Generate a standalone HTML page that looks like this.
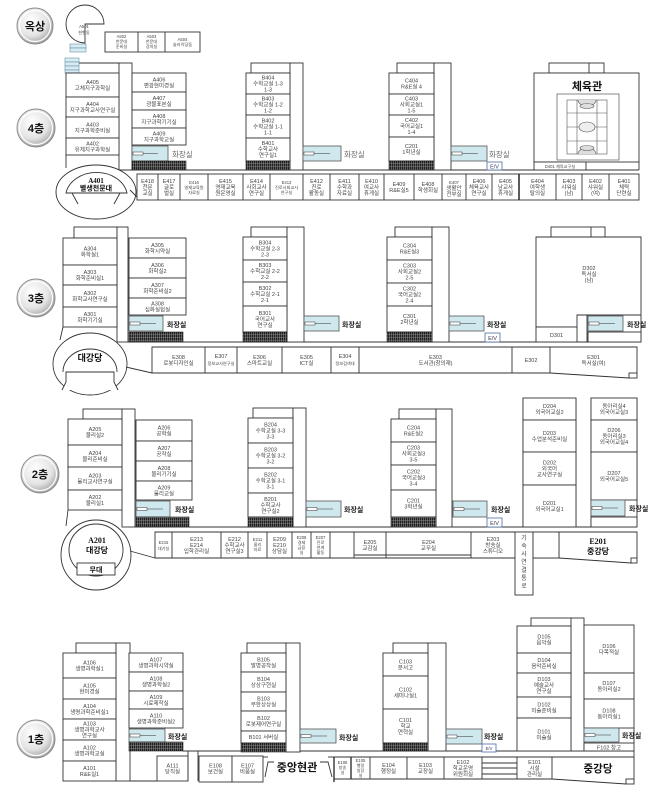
<!DOCTYPE html>
<html><head><meta charset="utf-8">
<style>
html,body{margin:0;padding:0;background:#fff;}
svg{display:block;}
.w{fill:#fff;stroke:#333;stroke-width:.9}
.ln{fill:none;stroke:#333;stroke-width:.9}
.tl{fill:#cfe8ee;stroke:#555;stroke-width:.8}
.ev{fill:#fff;stroke:#4a6fa5;stroke-width:.8}
.h{fill:url(#hp);stroke:#222;stroke-width:.6}
text{font-family:"Liberation Sans","Noto Sans CJK KR","NanumGothic",sans-serif;}
.t{font-size:5.5px;fill:#444;text-anchor:middle}
.s{font-size:4.2px;fill:#444;text-anchor:middle}
.fl{font-size:11px;font-weight:bold;fill:#111;text-anchor:middle}
.wc{font-size:7px;font-weight:bold;fill:#222}
.wc4{font-size:7.5px;fill:#666}
.big{font-size:11px;font-weight:bold;fill:#111;text-anchor:middle}
.srf{font-family:"Liberation Serif","Noto Serif CJK SC",serif;font-weight:bold;fill:#111;text-anchor:middle}
</style></head>
<body>
<svg width="659" height="796" viewBox="0 0 659 796" xmlns="http://www.w3.org/2000/svg">
<defs>
<pattern id="hp" width="2" height="3" patternUnits="userSpaceOnUse">
<rect width="2" height="3" fill="#1e1e1e"/>
<rect x="1.1" width="0.5" height="3" fill="#999"/>
<rect y="1.6" width="2" height="0.4" fill="#999"/>
</pattern>
<radialGradient id="fg" cx="40%" cy="35%" r="70%">
<stop offset="0" stop-color="#ffffff"/>
<stop offset="0.6" stop-color="#e4e4e4"/>
<stop offset="1" stop-color="#9a9a9a"/>
</radialGradient>
</defs>

<!-- ===== Floor labels ===== -->
<g>
<circle cx="35" cy="26" r="18" fill="url(#fg)" stroke="#8a8a8a" stroke-width="1"/>
<circle cx="35" cy="26" r="15.5" fill="none" stroke="#fff" stroke-width="1.2"/>
<text class="fl" x="35" y="30">옥상</text>
<circle cx="36" cy="128" r="19" fill="url(#fg)" stroke="#8a8a8a" stroke-width="1"/>
<circle cx="36" cy="128" r="16.5" fill="none" stroke="#fff" stroke-width="1.2"/>
<text class="fl" x="36" y="132">4층</text>
<circle cx="36" cy="298" r="19" fill="url(#fg)" stroke="#8a8a8a" stroke-width="1"/>
<circle cx="36" cy="298" r="16.5" fill="none" stroke="#fff" stroke-width="1.2"/>
<text class="fl" x="36" y="302">3층</text>
<circle cx="40" cy="474" r="19" fill="url(#fg)" stroke="#8a8a8a" stroke-width="1"/>
<circle cx="40" cy="474" r="16.5" fill="none" stroke="#fff" stroke-width="1.2"/>
<text class="fl" x="40" y="478">2층</text>
<circle cx="36" cy="739" r="19" fill="url(#fg)" stroke="#8a8a8a" stroke-width="1"/>
<circle cx="36" cy="739" r="16.5" fill="none" stroke="#fff" stroke-width="1.2"/>
<text class="fl" x="36" y="743">1층</text>
</g>

<!-- ===== Rooftop ===== -->
<path class="w" d="M104,24 L85,24 L85,43 A19,19 0 1,1 104,24 Z"/>
<path class="w" d="M66,24 A19,19 0 0,1 104,24 L85,24 L85,43 A19,19 0 0,1 66,24 Z" style="display:none"/>
<text class="s" x="84" y="28">A501</text>
<text class="s" x="84" y="34">현행동</text>
<rect class="w" x="105" y="32" width="95" height="20"/>
<line class="ln" x1="138" y1="32" x2="138" y2="52"/>
<line class="ln" x1="165" y1="32" x2="165" y2="52"/>
<text class="s" x="121.5" y="38">A502</text><text class="s" x="121.5" y="43">천문대</text><text class="s" x="121.5" y="48">준비실</text>
<text class="s" x="151.5" y="38">A503</text><text class="s" x="151.5" y="43">천문대</text><text class="s" x="151.5" y="48">강의실</text>
<text class="s" x="182.5" y="41">A504</text><text class="s" x="182.5" y="46">슬라이딩돔</text>
<!-- stairs -->
<g fill="#d7ecf3" stroke="#6b8fa6" stroke-width=".6">
<rect x="70" y="44" width="16" height="4"/><rect x="70" y="48" width="16" height="4"/>
<rect x="65" y="58" width="14" height="4"/><rect x="65" y="62" width="14" height="4"/>
<rect x="65" y="66" width="14" height="4"/><rect x="65" y="70" width="14" height="3"/>
</g>

<!-- ===== 4F ===== -->
<line class="ln" x1="79" y1="63" x2="119" y2="63"/>
<rect class="w" x="119" y="63" width="13" height="107"/>
<line class="ln" x1="66" y1="155" x2="66" y2="168"/>
<rect class="w" x="66" y="73" width="53" height="24"/><text class="t" x="92.5" y="84">A405</text><text class="t" x="92.5" y="90">고체지구과학실</text>
<rect class="w" x="66" y="97" width="53" height="20"/><text class="t" x="92.5" y="106">A404</text><text class="t" x="92.5" y="112">지구과학교사연구실</text>
<rect class="w" x="66" y="117" width="53" height="21"/><text class="t" x="92.5" y="126.5">A403</text><text class="t" x="92.5" y="132.5">지구과학준비실</text>
<rect class="w" x="66" y="138" width="53" height="17"/><text class="t" x="92.5" y="145.5">A402</text><text class="t" x="92.5" y="151.5">유체지구과학실</text>
<rect class="w" x="132" y="73" width="54" height="19"/><text class="t" x="159" y="81.5">A406</text><text class="t" x="159" y="87.5">편광현미경실</text>
<rect class="w" x="132" y="92" width="54" height="18"/><text class="t" x="159" y="100">A407</text><text class="t" x="159" y="106">광물표본실</text>
<rect class="w" x="132" y="110" width="54" height="18"/><text class="t" x="159" y="118">A408</text><text class="t" x="159" y="124">지구과학기기실</text>
<rect class="w" x="132" y="128" width="54" height="17"/><text class="t" x="159" y="135.5">A409</text><text class="t" x="159" y="141.5">지구과학교실</text>
<rect class="tl" x="132" y="146" width="36" height="15"/>
<line x1="133" y1="153.5" x2="158" y2="153.5" stroke="#333" stroke-width=".6"/><rect x="133" y="152" width="10" height="3" fill="#fff" stroke="#333" stroke-width=".5"/>
<text class="wc4" x="172" y="157">화장실</text>
<rect class="h" x="132" y="161" width="54" height="9"/>
<line class="ln" x1="120" y1="170" x2="639" y2="170"/>

<!-- A401 -->
<ellipse class="w" cx="96" cy="192" rx="40" ry="27"/>
<path class="w" d="M66,193 A31,25 0 0,1 127,193 Z"/>
<line class="ln" x1="72" y1="193" x2="78" y2="204"/>
<line class="ln" x1="120" y1="193" x2="114" y2="204"/>
<text class="srf" x="96" y="183" style="font-size:7px">A401</text>
<text x="96" y="190.5" style="font-size:7px;font-weight:bold;fill:#111;text-anchor:middle">별생천문대</text>
<line class="ln" x1="130" y1="190" x2="140" y2="200"/>

<!-- E row 4F -->
<rect class="w" x="137" y="174" width="502" height="26"/>
<g class="ln">
<line x1="158" y1="174" x2="158" y2="200"/><line x1="180" y1="174" x2="180" y2="200"/>
<line x1="208" y1="174" x2="208" y2="200"/><line x1="243" y1="174" x2="243" y2="200"/>
<line x1="270" y1="174" x2="270" y2="200"/><line x1="303" y1="174" x2="303" y2="200"/>
<line x1="330" y1="174" x2="330" y2="200"/><line x1="359" y1="174" x2="359" y2="200"/>
<line x1="384" y1="174" x2="384" y2="200"/><line x1="414" y1="174" x2="414" y2="200"/>
<line x1="442" y1="174" x2="442" y2="200"/><line x1="466" y1="174" x2="466" y2="200"/>
<line x1="492" y1="174" x2="492" y2="200"/><line x1="519" y1="174" x2="519" y2="200" stroke-width="1.6"/>
<line x1="556" y1="174" x2="556" y2="200"/><line x1="582" y1="174" x2="582" y2="200"/>
<line x1="609" y1="174" x2="609" y2="200"/>
</g>
<text class="t" x="147.5" y="183">E418</text><text class="t" x="147.5" y="189">천문</text><text class="t" x="147.5" y="195">교실</text>
<text class="t" x="169" y="183">E417</text><text class="t" x="169" y="189">글로</text><text class="t" x="169" y="195">벌실</text>
<text class="s" x="194" y="184">E416</text><text class="s" x="194" y="189">영재교육원</text><text class="s" x="194" y="194">자료실</text>
<text class="t" x="225.5" y="183">E415</text><text class="t" x="225.5" y="189">영재교육</text><text class="t" x="225.5" y="195">원운영실</text>
<text class="t" x="256.5" y="183">E414</text><text class="t" x="256.5" y="189">사회교사</text><text class="t" x="256.5" y="195">연구실</text>
<text class="s" x="286.5" y="184">E413</text><text class="s" x="286.5" y="189">진로사회교사</text><text class="s" x="286.5" y="194">연구실</text>
<text class="t" x="316.5" y="183">E412</text><text class="t" x="316.5" y="189">진로</text><text class="t" x="316.5" y="195">활동실</text>
<text class="t" x="344.5" y="183">E411</text><text class="t" x="344.5" y="189">수학과</text><text class="t" x="344.5" y="195">자료실</text>
<text class="t" x="371.5" y="183">E410</text><text class="t" x="371.5" y="189">여교사</text><text class="t" x="371.5" y="195">휴게실</text>
<text class="t" x="399" y="186">E409</text><text class="t" x="399" y="192">R&amp;E실5</text>
<text class="t" x="428" y="186">E408</text><text class="t" x="428" y="192">학생회실</text>
<text class="s" x="454" y="184">E407</text><text class="t" x="454" y="190">생활안</text><text class="t" x="454" y="196">전부실</text>
<text class="t" x="479" y="183">E406</text><text class="t" x="479" y="189">체육교사</text><text class="t" x="479" y="195">연구실</text>
<text class="t" x="505.5" y="183">E405</text><text class="t" x="505.5" y="189">남교사</text><text class="t" x="505.5" y="195">휴게실</text>
<text class="t" x="537.5" y="183">E404</text><text class="t" x="537.5" y="189">여학생</text><text class="t" x="537.5" y="195">탈의실</text>
<text class="t" x="569" y="183">E403</text><text class="t" x="569" y="189">샤워실</text><text class="t" x="569" y="195">(남)</text>
<text class="t" x="595.5" y="183">E402</text><text class="t" x="595.5" y="189">샤워실</text><text class="t" x="595.5" y="195">(여)</text>
<text class="t" x="624" y="183">E401</text><text class="t" x="624" y="189">체력</text><text class="t" x="624" y="195">단련실</text>

<!-- B 4F -->
<rect class="w" x="251" y="63" width="39" height="10"/>
<rect class="w" x="290" y="63" width="13" height="107"/>
<rect class="w" x="246" y="73" width="44" height="21"/><text class="t" x="268" y="79.5">B404</text><text class="t" x="268" y="85.5">수학교실 1-3</text><text class="t" x="268" y="91.5">1-3</text>
<rect class="w" x="246" y="94" width="44" height="21"/><text class="t" x="268" y="100.5">B403</text><text class="t" x="268" y="106.5">수학교실 1-2</text><text class="t" x="268" y="112.5">1-2</text>
<rect class="w" x="246" y="115" width="44" height="23"/><text class="t" x="268" y="122.5">B402</text><text class="t" x="268" y="128.5">수학교실 1-1</text><text class="t" x="268" y="134.5">1-1</text>
<rect class="w" x="246" y="138" width="44" height="23"/><text class="t" x="268" y="145">B401</text><text class="t" x="268" y="151">수학교사</text><text class="t" x="268" y="157">연구실1</text>
<rect class="h" x="246" y="161" width="44" height="9"/>
<rect class="tl" x="303" y="146" width="38" height="15"/>
<line x1="304" y1="153.5" x2="330" y2="153.5" stroke="#333" stroke-width=".6"/><rect x="304" y="152" width="10" height="3" fill="#fff" stroke="#333" stroke-width=".5"/>
<text class="wc4" x="344" y="157">화장실</text>

<!-- C 4F -->
<rect class="w" x="397" y="63" width="37" height="10"/>
<rect class="w" x="434" y="63" width="17" height="107"/>
<rect class="w" x="389" y="73" width="45" height="21"/><text class="t" x="411.5" y="82.5">C404</text><text class="t" x="411.5" y="88.5">R&amp;E실 4</text>
<rect class="w" x="389" y="94" width="45" height="21"/><text class="t" x="411.5" y="100.5">C403</text><text class="t" x="411.5" y="106.5">사회교실1</text><text class="t" x="411.5" y="112.5">1-5</text>
<rect class="w" x="389" y="115" width="45" height="22"/><text class="t" x="411.5" y="122">C402</text><text class="t" x="411.5" y="128">국어교실1</text><text class="t" x="411.5" y="134">1-4</text>
<rect class="w" x="389" y="137" width="45" height="24"/><text class="t" x="411.5" y="148">C201</text><text class="t" x="411.5" y="154">1학년실</text>
<rect class="h" x="389" y="161" width="45" height="9"/>
<rect class="tl" x="451" y="146" width="36" height="15"/>
<line x1="452" y1="153.5" x2="478" y2="153.5" stroke="#333" stroke-width=".6"/><rect x="452" y="152" width="10" height="3" fill="#fff" stroke="#333" stroke-width=".5"/>
<text class="wc4" x="489" y="157">화장실</text>
<rect class="ev" x="487" y="162" width="15" height="8"/><text class="t" x="494.5" y="168.5" style="fill:#335">E/V</text>

<!-- Gym -->
<rect class="w" x="549" y="63" width="55" height="10"/>
<line class="ln" x1="589" y1="63" x2="589" y2="73"/>
<rect class="w" x="534" y="73" width="105" height="89"/>
<text class="big" x="587" y="90">체육관</text>
<rect x="557" y="94" width="62" height="66" fill="#fff" stroke="#555" stroke-width=".7"/>
<g fill="none" stroke="#555" stroke-width=".6">
<rect x="567" y="100" width="40" height="54"/>
<line x1="577" y1="100" x2="577" y2="154"/><line x1="597" y1="100" x2="597" y2="154"/>
<line x1="567" y1="113" x2="607" y2="113"/><line x1="567" y1="127" x2="607" y2="127"/><line x1="567" y1="141" x2="607" y2="141"/>
<ellipse cx="587" cy="127" rx="8" ry="5" fill="#eee"/>
<path d="M578,100 A9,6 0 0,0 596,100" fill="#ddd"/>
<path d="M578,154 A9,6 0 0,1 596,154" fill="#ddd"/>
<ellipse cx="587" cy="106" rx="7" ry="2.5" fill="#ddd"/>
<ellipse cx="587" cy="148" rx="7" ry="2.5" fill="#ddd"/>
</g>
<rect class="w" x="534" y="162" width="52" height="8"/><text class="s" x="560" y="168">D401 체육교구실</text>
<line class="ln" x1="639" y1="162" x2="639" y2="170"/>

<!-- ===== 3F ===== -->
<rect class="w" x="74" y="227" width="43" height="11"/>
<rect class="w" x="117" y="227" width="11" height="115"/>
<rect class="w" x="63" y="238" width="54" height="27"/><text class="t" x="90" y="250.5">A304</text><text class="t" x="90" y="256.5">화학실1</text>
<rect class="w" x="63" y="265" width="54" height="20"/><text class="t" x="90" y="274">A303</text><text class="t" x="90" y="280">화학준비실1</text>
<rect class="w" x="63" y="285" width="54" height="22"/><text class="t" x="90" y="295">A302</text><text class="t" x="90" y="301">화학교사연구실</text>
<rect class="w" x="63" y="307" width="54" height="20"/><text class="t" x="90" y="316">A301</text><text class="t" x="90" y="322">화학기기실</text>
<line class="ln" x1="63" y1="327" x2="60" y2="340"/>
<rect class="w" x="129" y="238" width="57" height="20"/><text class="t" x="157.5" y="247">A305</text><text class="t" x="157.5" y="253">화학시약실</text>
<rect class="w" x="129" y="258" width="57" height="20"/><text class="t" x="157.5" y="267">A306</text><text class="t" x="157.5" y="273">화학실2</text>
<rect class="w" x="129" y="278" width="57" height="20"/><text class="t" x="157.5" y="287">A307</text><text class="t" x="157.5" y="293">화학준비실2</text>
<rect class="w" x="129" y="298" width="57" height="17"/><text class="t" x="157.5" y="305.5">A308</text><text class="t" x="157.5" y="311.5">심화실험실</text>
<rect class="tl" x="129" y="316" width="34" height="15"/>
<line x1="130" y1="323.5" x2="156" y2="323.5" stroke="#333" stroke-width=".6"/><rect x="130" y="322" width="10" height="3" fill="#fff" stroke="#333" stroke-width=".5"/>
<text class="wc" x="167" y="327">화장실</text>
<rect class="h" x="129" y="332" width="54" height="10"/>
<line class="ln" x1="128" y1="342" x2="641" y2="342"/>

<!-- 대강당 3F -->
<ellipse class="w" cx="90" cy="364" rx="37" ry="31"/>
<path class="w" d="M63,372 A27,23 0 1,1 117,372"/>
<path class="w" d="M62,390 L66,382 L66,372 L114,372 L114,382 L118,390"/>
<line class="ln" x1="66" y1="382" x2="114" y2="382" style="display:none"/>
<text x="90" y="361" style="font-size:9px;font-weight:bold;fill:#111;text-anchor:middle">대강당</text>
<line class="ln" x1="126" y1="367" x2="152" y2="373"/>

<!-- E row 3F -->
<path class="w" d="M152,347 H637 V373 H637 L629,378 L550,373 H152 Z"/>
<rect class="w" x="629" y="373" width="8" height="5"/>
<g class="ln">
<line x1="205" y1="347" x2="205" y2="373"/><line x1="237" y1="347" x2="237" y2="373"/>
<line x1="282" y1="347" x2="282" y2="373"/><line x1="331" y1="347" x2="331" y2="373"/>
<line x1="359" y1="347" x2="359" y2="373"/><line x1="512" y1="347" x2="512" y2="373"/>
<line x1="550" y1="347" x2="550" y2="373"/>
</g>
<text class="t" x="178.5" y="359">E308</text><text class="t" x="178.5" y="365">로봇디자인실</text>
<text class="t" x="221" y="358">E307</text><text class="s" x="221" y="365">정보교사연구실</text>
<text class="t" x="259.5" y="359">E306</text><text class="t" x="259.5" y="365">스마트교실</text>
<text class="t" x="306.5" y="359">E305</text><text class="t" x="306.5" y="365">ICT실</text>
<text class="t" x="345" y="358">E304</text><text class="s" x="345" y="365">정보검색대</text>
<text class="t" x="435.5" y="359">E303</text><text class="t" x="435.5" y="365">도서관(창의재)</text>
<text class="t" x="531" y="362">E302</text>
<text class="t" x="593.5" y="359">E301</text><text class="t" x="593.5" y="365">독서실(여)</text>

<!-- B 3F -->
<rect class="w" x="251" y="227" width="36" height="10"/>
<rect class="w" x="287" y="227" width="17" height="115"/>
<rect class="w" x="243" y="237" width="44" height="23"/><text class="t" x="265" y="244.5">B304</text><text class="t" x="265" y="250.5">수학교실 2-3</text><text class="t" x="265" y="256.5">2-3</text>
<rect class="w" x="243" y="260" width="44" height="22"/><text class="t" x="265" y="267">B303</text><text class="t" x="265" y="273">수학교실 2-2</text><text class="t" x="265" y="279">2-2</text>
<rect class="w" x="243" y="282" width="44" height="24"/><text class="t" x="265" y="290">B302</text><text class="t" x="265" y="296">수학교실 2-1</text><text class="t" x="265" y="302">2-1</text>
<rect class="w" x="243" y="306" width="44" height="26"/><text class="t" x="265" y="315">B301</text><text class="t" x="265" y="321">국어교사</text><text class="t" x="265" y="327">연구실</text>
<rect class="h" x="243" y="332" width="44" height="10"/>
<rect class="tl" x="304" y="316" width="35" height="15"/>
<line x1="305" y1="323.5" x2="331" y2="323.5" stroke="#333" stroke-width=".6"/><rect x="305" y="322" width="10" height="3" fill="#fff" stroke="#333" stroke-width=".5"/>
<text class="wc" x="342" y="327">화장실</text>

<!-- C 3F -->
<rect class="w" x="395" y="227" width="37" height="10"/>
<rect class="w" x="432" y="227" width="17" height="115"/>
<rect class="w" x="387" y="237" width="45" height="23"/><text class="t" x="409.5" y="247.5">C304</text><text class="t" x="409.5" y="253.5">R&amp;E실3</text>
<rect class="w" x="387" y="260" width="45" height="23"/><text class="t" x="409.5" y="267.5">C303</text><text class="t" x="409.5" y="273.5">사회교실2</text><text class="t" x="409.5" y="279.5">2-5</text>
<rect class="w" x="387" y="283" width="45" height="23"/><text class="t" x="409.5" y="290.5">C302</text><text class="t" x="409.5" y="296.5">국어교실2</text><text class="t" x="409.5" y="302.5">2-4</text>
<rect class="w" x="387" y="306" width="45" height="26"/><text class="t" x="409.5" y="318">C301</text><text class="t" x="409.5" y="324">2학년실</text>
<rect class="h" x="387" y="332" width="45" height="10"/>
<rect class="tl" x="449" y="316" width="35" height="15"/>
<line x1="450" y1="323.5" x2="476" y2="323.5" stroke="#333" stroke-width=".6"/><rect x="450" y="322" width="10" height="3" fill="#fff" stroke="#333" stroke-width=".5"/>
<text class="wc" x="487" y="327">화장실</text>
<rect class="ev" x="485" y="333" width="15" height="9"/><text class="t" x="492.5" y="340" style="fill:#335">E/V</text>

<!-- D 3F -->
<rect class="w" x="551" y="227" width="54" height="10"/>
<line class="ln" x1="591" y1="227" x2="591" y2="237"/>
<polygon class="w" points="536,237 641,237 641,315 577,315 577,327 536,327"/>
<text class="t" x="589" y="270">D302</text><text class="t" x="589" y="276">독서실</text><text class="t" x="589" y="282">(남)</text>
<rect class="w" x="536" y="327" width="41" height="15"/><text class="t" x="556.5" y="337">D301</text>
<line class="ln" x1="587" y1="315" x2="587" y2="342"/>
<line class="ln" x1="641" y1="315" x2="641" y2="342"/>
<rect class="tl" x="588" y="316" width="35" height="15"/>
<line x1="589" y1="323.5" x2="615" y2="323.5" stroke="#333" stroke-width=".6"/><rect x="589" y="322" width="10" height="3" fill="#fff" stroke="#333" stroke-width=".5"/>
<rect class="w" x="588" y="332" width="53" height="10"/>
<text class="wc" x="627" y="327">화장실</text>

<!-- ===== 2F ===== -->
<rect class="w" x="83" y="409" width="39" height="10"/>
<rect class="w" x="122" y="409" width="13" height="118"/>
<rect class="w" x="68" y="419" width="54" height="26"/><text class="t" x="95" y="431">A205</text><text class="t" x="95" y="437">물리실2</text>
<rect class="w" x="68" y="445" width="54" height="22"/><text class="t" x="95" y="455">A204</text><text class="t" x="95" y="461">물리준비실</text>
<rect class="w" x="68" y="467" width="54" height="23"/><text class="t" x="95" y="477.5">A203</text><text class="t" x="95" y="483.5">물리교사연구실</text>
<rect class="w" x="68" y="490" width="54" height="20"/><text class="t" x="95" y="499">A202</text><text class="t" x="95" y="505">물리실1</text>
<line class="ln" x1="68" y1="510" x2="66" y2="526"/>
<rect class="w" x="136" y="420" width="56" height="21"/><text class="t" x="164" y="429.5">A206</text><text class="t" x="164" y="435.5">공학실</text>
<rect class="w" x="136" y="441" width="56" height="20"/><text class="t" x="164" y="450">A207</text><text class="t" x="164" y="456">공작실</text>
<rect class="w" x="136" y="461" width="56" height="20"/><text class="t" x="164" y="470">A208</text><text class="t" x="164" y="476">물리기기실</text>
<rect class="w" x="136" y="481" width="56" height="19"/><text class="t" x="164" y="489.5">A209</text><text class="t" x="164" y="495.5">물리교실</text>
<rect class="tl" x="136" y="501" width="34" height="16"/>
<line x1="137" y1="509" x2="163" y2="509" stroke="#333" stroke-width=".6"/><rect x="137" y="507.5" width="10" height="3" fill="#fff" stroke="#333" stroke-width=".5"/>
<text class="wc" x="175" y="512">화장실</text>
<rect class="h" x="136" y="517" width="53" height="10"/>
<line class="ln" x1="135" y1="527" x2="637" y2="527"/>

<!-- A201 -->
<ellipse class="w" cx="96" cy="555" rx="35" ry="35"/>
<ellipse class="w" cx="96" cy="550" rx="27" ry="26"/>
<rect class="w" x="77" y="563" width="38" height="12"/>
<text x="96" y="572" style="font-size:7px;font-weight:bold;fill:#111;text-anchor:middle">무대</text>
<text class="srf" x="97" y="543" style="font-size:8px">A201</text>
<text x="97" y="553" style="font-size:8px;font-weight:bold;fill:#111;text-anchor:middle">대강당</text>
<line class="ln" x1="130" y1="551" x2="155" y2="558"/>

<!-- E row 2F -->
<path class="w" d="M155,532 H637 V558 H637 L631,563 L559,558 H155 Z"/>
<rect class="w" x="631" y="558" width="6" height="5"/>
<g class="ln">
<line x1="172" y1="532" x2="172" y2="558"/><line x1="221" y1="532" x2="221" y2="558"/>
<line x1="248" y1="532" x2="248" y2="558"/><line x1="267" y1="532" x2="267" y2="558"/>
<line x1="292" y1="532" x2="292" y2="558"/><line x1="311" y1="532" x2="311" y2="558"/>
<line x1="330" y1="532" x2="330" y2="558"/><line x1="354" y1="532" x2="354" y2="558"/>
<line x1="386" y1="532" x2="386" y2="558"/><line x1="471" y1="532" x2="471" y2="558"/>
<line x1="559" y1="532" x2="559" y2="558"/>
<line x1="354" y1="555" x2="471" y2="555"/>
</g>
<rect class="w" x="515" y="532" width="18" height="63"/>
<rect class="w" x="533" y="532" width="26" height="26"/>
<text class="s" x="163.5" y="544">E215</text><text class="s" x="163.5" y="550">대기실</text>
<text class="t" x="196.5" y="541">E213</text><text class="t" x="196.5" y="547">E214</text><text class="t" x="196.5" y="553">입학관리실</text>
<text class="t" x="234.5" y="541">E212</text><text class="t" x="234.5" y="547">수학교사</text><text class="t" x="234.5" y="553">연구실3</text>
<text class="s" x="257.5" y="541">E211</text><text class="s" x="257.5" y="546">물리</text><text class="s" x="257.5" y="551">자료</text>
<text class="t" x="279.5" y="541">E209</text><text class="t" x="279.5" y="547">E210</text><text class="t" x="279.5" y="553">상담실</text>
<text class="s" x="301.5" y="539">E208</text><text class="s" x="301.5" y="544">경제</text><text class="s" x="301.5" y="549">금융</text><text class="s" x="301.5" y="554">실</text>
<text class="s" x="320.5" y="539">E207</text><text class="s" x="320.5" y="544">진로</text><text class="s" x="320.5" y="549">연계</text><text class="s" x="320.5" y="554">활동</text>
<text class="t" x="370" y="544">E205</text><text class="t" x="370" y="550">교감실</text>
<text class="t" x="428.5" y="544">E204</text><text class="t" x="428.5" y="550">교무실</text>
<text class="t" x="493" y="541">E203</text><text class="t" x="493" y="547">방송실</text><text class="t" x="493" y="553">스튜디오</text>
<g class="t" style="font-size:6px">
<text class="t" x="524" y="540" style="font-size:6px">기</text><text class="t" x="524" y="548" style="font-size:6px">숙</text>
<text class="t" x="524" y="556" style="font-size:6px">사</text><text class="t" x="524" y="564" style="font-size:6px">연</text>
<text class="t" x="524" y="572" style="font-size:6px">결</text><text class="t" x="524" y="580" style="font-size:6px">통</text>
<text class="t" x="524" y="588" style="font-size:6px">로</text>
</g>
<text class="srf" x="598" y="544" style="font-size:8px">E201</text>
<text x="598" y="554" style="font-size:8px;font-weight:bold;fill:#111;text-anchor:middle">중강당</text>

<!-- B 2F -->
<rect class="w" x="253" y="408" width="40" height="10"/>
<rect class="w" x="293" y="408" width="13" height="119"/>
<rect class="w" x="248" y="418" width="45" height="25"/><text class="t" x="270.5" y="426.5">B204</text><text class="t" x="270.5" y="432.5">수학교실 3-3</text><text class="t" x="270.5" y="438.5">3-3</text>
<rect class="w" x="248" y="443" width="45" height="25"/><text class="t" x="270.5" y="451.5">B203</text><text class="t" x="270.5" y="457.5">수학교실 3-2</text><text class="t" x="270.5" y="463.5">3-2</text>
<rect class="w" x="248" y="468" width="45" height="25"/><text class="t" x="270.5" y="476.5">B202</text><text class="t" x="270.5" y="482.5">수학교실 3-1</text><text class="t" x="270.5" y="488.5">3-1</text>
<rect class="w" x="248" y="493" width="45" height="24"/><text class="t" x="270.5" y="501">B201</text><text class="t" x="270.5" y="507">수학교사</text><text class="t" x="270.5" y="513">연구실2</text>
<rect class="h" x="248" y="517" width="45" height="10"/>
<rect class="tl" x="306" y="501" width="35" height="16"/>
<line x1="307" y1="509" x2="333" y2="509" stroke="#333" stroke-width=".6"/><rect x="307" y="507.5" width="10" height="3" fill="#fff" stroke="#333" stroke-width=".5"/>
<text class="wc" x="344" y="512">화장실</text>

<!-- C 2F -->
<rect class="w" x="399" y="409" width="37" height="10"/>
<rect class="w" x="436" y="409" width="16" height="118"/>
<rect class="w" x="391" y="419" width="45" height="23"/><text class="t" x="413.5" y="429.5">C204</text><text class="t" x="413.5" y="435.5">R&amp;E실2</text>
<rect class="w" x="391" y="442" width="45" height="23"/><text class="t" x="413.5" y="449.5">C203</text><text class="t" x="413.5" y="455.5">사회교실3</text><text class="t" x="413.5" y="461.5">3-5</text>
<rect class="w" x="391" y="465" width="45" height="25"/><text class="t" x="413.5" y="473.5">C202</text><text class="t" x="413.5" y="479.5">국어교실3</text><text class="t" x="413.5" y="485.5">3-4</text>
<rect class="w" x="391" y="490" width="45" height="27"/><text class="t" x="413.5" y="502.5">C201</text><text class="t" x="413.5" y="508.5">3학년실</text>
<rect class="h" x="391" y="517" width="45" height="10"/>
<rect class="tl" x="453" y="501" width="34" height="16"/>
<line x1="454" y1="509" x2="480" y2="509" stroke="#333" stroke-width=".6"/><rect x="454" y="507.5" width="10" height="3" fill="#fff" stroke="#333" stroke-width=".5"/>
<text class="wc" x="491" y="512">화장실</text>
<rect class="ev" x="487" y="518" width="15" height="9"/><text class="t" x="494.5" y="525" style="fill:#335">E/V</text>

<!-- D 2F -->
<line class="ln" x1="523" y1="398" x2="523" y2="527"/>
<line class="ln" x1="576" y1="398" x2="576" y2="527"/>
<line class="ln" x1="591" y1="398" x2="591" y2="527"/>
<line class="ln" x1="637" y1="398" x2="637" y2="527"/>
<rect class="w" x="523" y="398" width="53" height="22" style="stroke-dasharray:0"/><text class="t" x="549.5" y="408">D204</text><text class="t" x="549.5" y="414">외국어교실2</text>
<rect class="w" x="523" y="420" width="53" height="32"/><text class="t" x="549.5" y="435">D203</text><text class="t" x="549.5" y="441">수업분석준비실</text>
<rect class="w" x="523" y="452" width="53" height="33"/><text class="t" x="549.5" y="464.5">D202</text><text class="t" x="549.5" y="470.5">외국어</text><text class="t" x="549.5" y="476.5">교사연구실</text>
<rect class="w" x="523" y="485" width="53" height="42"/><text class="t" x="549.5" y="505">D201</text><text class="t" x="549.5" y="511">외국어교실1</text>
<rect class="w" x="591" y="398" width="46" height="22"/><text class="t" x="614" y="408">동아리실4</text><text class="t" x="614" y="414">외국어교실3</text>
<rect class="w" x="591" y="420" width="46" height="32"/><text class="t" x="614" y="432">D206</text><text class="t" x="614" y="438">동아리실3</text><text class="t" x="614" y="444">외국어교실4</text>
<rect class="w" x="591" y="452" width="46" height="48"/><text class="t" x="614" y="475">D207</text><text class="t" x="614" y="481">외국어교실5</text>
<rect class="tl" x="591" y="500" width="34" height="16"/>
<line x1="592" y1="508" x2="618" y2="508" stroke="#333" stroke-width=".6"/><rect x="592" y="506.5" width="10" height="3" fill="#fff" stroke="#333" stroke-width=".5"/>
<rect class="w" x="591" y="517" width="46" height="10"/>
<text class="wc" x="629" y="511">화장실</text>

<!-- ===== 1F ===== -->
<rect class="w" x="76" y="643" width="40" height="10"/>
<rect class="w" x="116" y="643" width="14" height="138"/>
<rect class="w" x="63" y="653" width="53" height="25"/><text class="t" x="89.5" y="664.5">A106</text><text class="t" x="89.5" y="670.5">생명과학실1</text>
<rect class="w" x="63" y="678" width="53" height="21"/><text class="t" x="89.5" y="687.5">A105</text><text class="t" x="89.5" y="693.5">현미경실</text>
<rect class="w" x="63" y="699" width="53" height="20"/><text class="t" x="89.5" y="708">A104</text><text class="t" x="89.5" y="714">생명과학준비실1</text>
<rect class="w" x="63" y="719" width="53" height="21"/><text class="t" x="89.5" y="725.5">A103</text><text class="t" x="89.5" y="731.5">생명과학교사</text><text class="t" x="89.5" y="737.5">연구실</text>
<rect class="w" x="63" y="740" width="53" height="21"/><text class="t" x="89.5" y="749.5">A102</text><text class="t" x="89.5" y="755.5">생명과학교실</text>
<rect class="w" x="63" y="761" width="53" height="20"/><text class="t" x="89.5" y="770">A101</text><text class="t" x="89.5" y="776">R&amp;E실1</text>
<rect class="w" x="129" y="653" width="54" height="19"/><text class="t" x="156" y="661.5">A107</text><text class="t" x="156" y="667.5">생명과학시약실</text>
<rect class="w" x="129" y="672" width="54" height="19"/><text class="t" x="156" y="680.5">A108</text><text class="t" x="156" y="686.5">생명과학실2</text>
<rect class="w" x="129" y="691" width="54" height="18"/><text class="t" x="156" y="699">A109</text><text class="t" x="156" y="705">시료제작실</text>
<rect class="w" x="129" y="709" width="54" height="19"/><text class="t" x="156" y="717.5">A110</text><text class="t" x="156" y="723.5">생명과학준비실2</text>
<rect class="tl" x="129" y="729" width="36" height="13"/>
<line x1="130" y1="735.5" x2="156" y2="735.5" stroke="#333" stroke-width=".6"/><rect x="130" y="734" width="10" height="3" fill="#fff" stroke="#333" stroke-width=".5"/>
<text class="wc" x="168" y="739">화장실</text>
<rect class="h" x="129" y="742" width="54" height="9"/>
<line class="ln" x1="183" y1="751" x2="634" y2="751"/>

<!-- E row 1F left -->
<rect class="w" x="157" y="756" width="31" height="25"/><text class="t" x="172.5" y="767.5">A111</text><text class="t" x="172.5" y="773.5">당직실</text>
<line class="ln" x1="188" y1="751" x2="188" y2="781"/>
<line class="ln" x1="198" y1="751" x2="198" y2="781"/>
<line class="ln" x1="130" y1="781" x2="157" y2="781"/>
<rect class="w" x="199" y="756" width="33" height="26"/><text class="t" x="215.5" y="767.5">E108</text><text class="t" x="215.5" y="773.5">보건실</text>
<rect class="w" x="232" y="756" width="31" height="26"/><text class="t" x="247.5" y="767.5">E107</text><text class="t" x="247.5" y="773.5">비품실</text>
<line class="ln" x1="263" y1="757" x2="268" y2="757"/>
<path class="ln" d="M265,777 L268,762 L274,762" stroke-width="1"/>
<path class="ln" d="M320,762 L328,762 L332,777" stroke-width="1"/>
<line class="ln" x1="328" y1="757" x2="334" y2="757"/>
<text x="297" y="771" style="font-size:11px;font-weight:bold;fill:#111;text-anchor:middle">중앙현관</text>

<!-- E row 1F right -->
<path class="w" d="M334,757 H634 V779 L626,784 L552,779 H334 Z"/>
<rect class="w" x="626" y="779" width="8" height="5"/>
<line class="ln" x1="634" y1="751" x2="634" y2="757"/>
<g class="ln">
<line x1="334" y1="757" x2="334" y2="782" stroke-width="1.4"/>
<line x1="351" y1="757" x2="351" y2="779" stroke-width="1.4"/><line x1="370" y1="757" x2="370" y2="779"/>
<line x1="407" y1="757" x2="407" y2="779"/><line x1="444" y1="757" x2="444" y2="779"/>
<line x1="482" y1="757" x2="482" y2="779"/><line x1="517" y1="757" x2="517" y2="779"/>
<line x1="552" y1="757" x2="552" y2="779"/>
<line x1="482" y1="763" x2="517" y2="763"/><line x1="482" y1="768" x2="517" y2="768"/><line x1="482" y1="774" x2="517" y2="774"/>
</g>
<text class="s" x="342.5" y="764">E106</text><text class="s" x="342.5" y="769">방송</text><text class="s" x="342.5" y="774">실</text>
<text class="s" x="360.5" y="762">E105</text><text class="s" x="360.5" y="767">행정</text><text class="s" x="360.5" y="772">실장</text><text class="s" x="360.5" y="777">실</text>
<text class="t" x="388.5" y="767">E104</text><text class="t" x="388.5" y="773">행정실</text>
<text class="t" x="425.5" y="767">E103</text><text class="t" x="425.5" y="773">교장실</text>
<text class="t" x="463" y="764">E102</text><text class="t" x="463" y="770">학교운영</text><text class="t" x="463" y="776">위원회실</text>
<text class="t" x="534.5" y="764">E101</text><text class="t" x="534.5" y="770">시설</text><text class="t" x="534.5" y="776">관리실</text>
<text x="598" y="772" style="font-size:10.5px;font-weight:bold;fill:#111;text-anchor:middle">중강당</text>

<!-- B 1F -->
<rect class="w" x="247" y="643" width="39" height="10"/>
<rect class="w" x="286" y="643" width="14" height="109"/>
<rect class="w" x="241" y="653" width="45" height="19"/><text class="t" x="263.5" y="661.5">B105</text><text class="t" x="263.5" y="667.5">발명공작실</text>
<rect class="w" x="241" y="672" width="45" height="20"/><text class="t" x="263.5" y="681">B104</text><text class="t" x="263.5" y="687">상상구현실</text>
<rect class="w" x="241" y="692" width="45" height="19"/><text class="t" x="263.5" y="700.5">B103</text><text class="t" x="263.5" y="706.5">무한상상실</text>
<rect class="w" x="241" y="711" width="45" height="20"/><text class="t" x="263.5" y="720">B102</text><text class="t" x="263.5" y="726">로봇제어연구실</text>
<rect class="w" x="241" y="731" width="45" height="12"/><text class="t" x="263.5" y="739">B101 서버실</text>
<rect class="h" x="241" y="743" width="45" height="9"/>
<rect class="tl" x="300" y="729" width="36" height="14"/>
<line x1="301" y1="736" x2="327" y2="736" stroke="#333" stroke-width=".6"/><rect x="301" y="734.5" width="10" height="3" fill="#fff" stroke="#333" stroke-width=".5"/>
<text class="wc" x="339" y="740">화장실</text>

<!-- C 1F -->
<rect class="w" x="393" y="643" width="35" height="10"/>
<rect class="w" x="428" y="643" width="18" height="108"/>
<rect class="w" x="383" y="653" width="45" height="23"/><text class="t" x="405.5" y="663.5">C103</text><text class="t" x="405.5" y="669.5">문서고</text>
<rect class="w" x="383" y="676" width="45" height="33"/><text class="t" x="405.5" y="691.5">C102</text><text class="t" x="405.5" y="697.5">세미나실1</text>
<rect class="w" x="383" y="709" width="45" height="34"/><text class="t" x="405.5" y="722">C101</text><text class="t" x="405.5" y="728">학교</text><text class="t" x="405.5" y="734">연혁실</text>
<rect class="h" x="383" y="743" width="45" height="8"/>
<rect class="tl" x="446" y="729" width="36" height="15"/>
<line x1="447" y1="736.5" x2="473" y2="736.5" stroke="#333" stroke-width=".6"/><rect x="447" y="735" width="10" height="3" fill="#fff" stroke="#333" stroke-width=".5"/>
<text class="wc" x="484" y="739">화장실</text>
<rect class="ev" x="482" y="744" width="14" height="8"/><text class="s" x="489" y="750" style="fill:#335">E/V</text>

<!-- D 1F -->
<rect class="w" x="531" y="618" width="41" height="8"/>
<rect class="w" x="571" y="618" width="13" height="133"/>
<rect class="w" x="517" y="626" width="54" height="27"/><text class="t" x="544" y="638.5">D105</text><text class="t" x="544" y="644.5">음악실</text>
<rect class="w" x="517" y="653" width="54" height="20"/><text class="t" x="544" y="662">D104</text><text class="t" x="544" y="668">음악준비실</text>
<rect class="w" x="517" y="673" width="54" height="24"/><text class="t" x="544" y="681">D103</text><text class="t" x="544" y="687">예술교사</text><text class="t" x="544" y="693">연구실</text>
<rect class="w" x="517" y="697" width="54" height="21"/><text class="t" x="544" y="706.5">D102</text><text class="t" x="544" y="712.5">미술준비실</text>
<rect class="w" x="517" y="718" width="54" height="33"/><text class="t" x="544" y="733.5">D101</text><text class="t" x="544" y="739.5">미술실</text>
<rect class="w" x="584" y="625" width="50" height="48"/><text class="t" x="609" y="648">D106</text><text class="t" x="609" y="654">다목적실</text>
<rect class="w" x="584" y="673" width="50" height="26"/><text class="t" x="609" y="685">D107</text><text class="t" x="609" y="691">동아리실2</text>
<rect class="w" x="584" y="699" width="50" height="29"/><text class="t" x="609" y="712.5">D108</text><text class="t" x="609" y="718.5">동아리실1</text>
<rect class="tl" x="584" y="728" width="35" height="14"/>
<line x1="585" y1="735" x2="611" y2="735" stroke="#333" stroke-width=".6"/><rect x="585" y="733.5" width="10" height="3" fill="#fff" stroke="#333" stroke-width=".5"/>
<line class="ln" x1="634" y1="728" x2="634" y2="743"/>
<text class="wc" x="622" y="738">화장실</text>
<rect class="w" x="584" y="743" width="50" height="8"/><text class="t" x="609" y="749.5">F102 창고</text>
</svg>
</body></html>
